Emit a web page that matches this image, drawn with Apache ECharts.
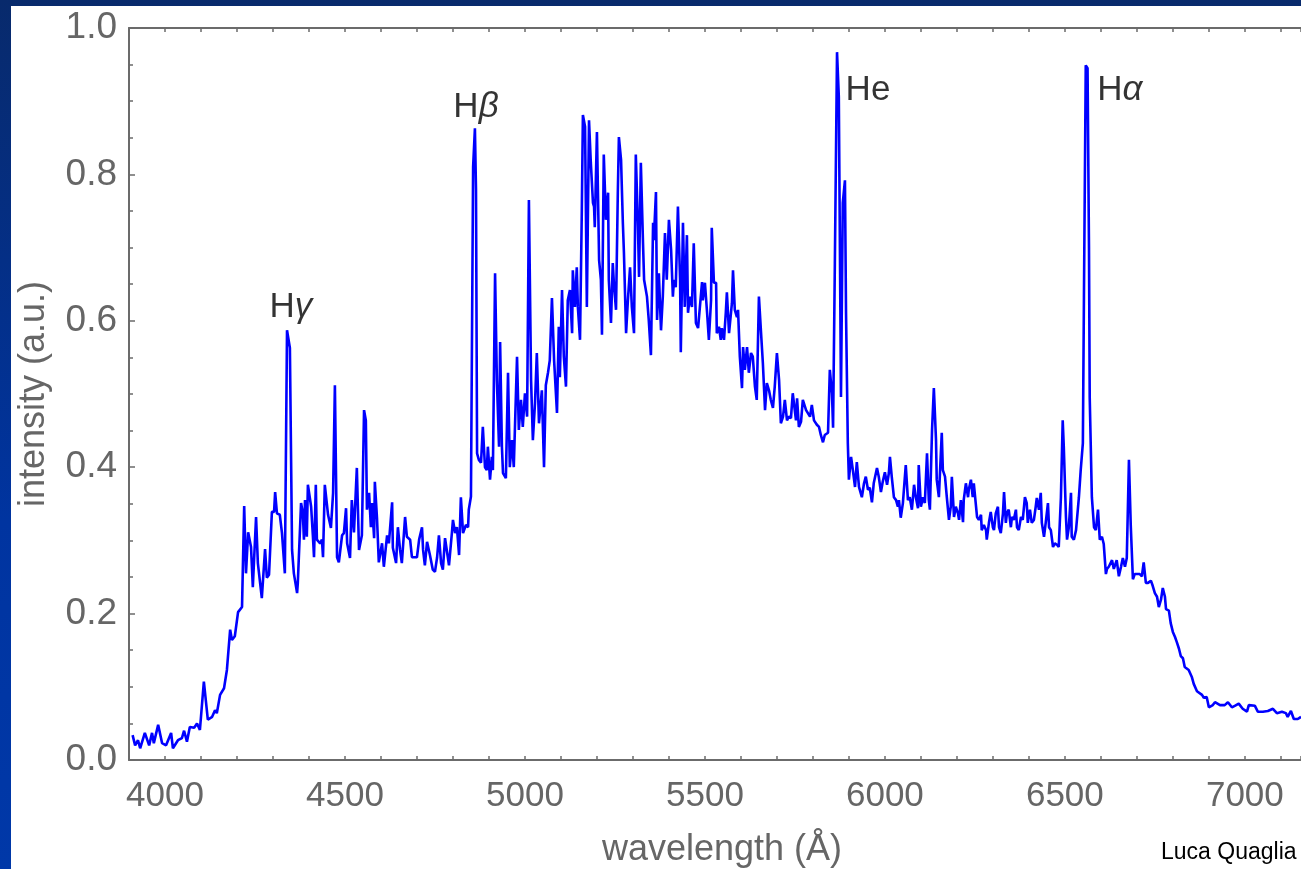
<!DOCTYPE html>
<html>
<head>
<meta charset="utf-8">
<script src="https://cdn.jsdelivr.net/npm/echarts@6/dist/echarts.min.js"></script>
<style>
  html, body { margin: 0; padding: 0; }
  body { width: 1301px; height: 869px; overflow: hidden; background: linear-gradient(180deg, #082a6c 0%, #0034a0 60%, #0038a8 100%); position: relative; }
  #paper { position: absolute; left: 11px; top: 6px; right: 0; bottom: 0; background: #fff; }
  #chartsDiv { position: absolute; left: 0; top: 0; width: 1301px; height: 869px; }
</style>
</head>
<body>
<div id="paper"></div>
<div id="chartsDiv"></div>
<script>
// wavelength (Å) and intensity (a.u.)
var wavelength = [
  3910, 3917, 3925, 3931, 3944, 3956, 3964, 3969, 3981, 3992, 4003, 4017, 4022, 4036, 4047, 4053, 4061, 4069, 4081, 4089,
  4097, 4108, 4119, 4131, 4139, 4144, 4153, 4164, 4172, 4181, 4186, 4194, 4203, 4214, 4220, 4225, 4231, 4239, 4244, 4253,
  4258, 4269, 4278, 4283, 4289, 4297, 4303, 4306, 4311, 4319, 4325, 4333, 4339, 4347, 4353, 4358, 4367, 4369, 4378, 4383,
  4386, 4389, 4394, 4397, 4406, 4411, 4414, 4419, 4422, 4431, 4436, 4439, 4444, 4453, 4461, 4467, 4472, 4478, 4483, 4492,
  4497, 4503, 4506, 4514, 4519, 4525, 4533, 4539, 4547, 4553, 4558, 4561, 4567, 4572, 4575, 4581, 4583, 4589, 4594, 4603,
  4608, 4617, 4622, 4631, 4633, 4642, 4647, 4653, 4658, 4667, 4672, 4681, 4686, 4692, 4700, 4706, 4714, 4717, 4722, 4728,
  4736, 4744, 4750, 4756, 4761, 4767, 4772, 4778, 4783, 4789, 4797, 4800, 4806, 4811, 4817, 4822, 4828, 4836, 4842, 4844,
  4850, 4856, 4861, 4864, 4867, 4872, 4878, 4883, 4889, 4894, 4897, 4903, 4908, 4911, 4917, 4922, 4928, 4931, 4936, 4939,
  4947, 4953, 4958, 4964, 4969, 4978, 4983, 4989, 4994, 5000, 5006, 5011, 5017, 5022, 5028, 5033, 5039, 5047, 5053, 5058,
  5064, 5069, 5075, 5081, 5089, 5094, 5097, 5103, 5108, 5114, 5119, 5125, 5131, 5133, 5139, 5144, 5147, 5153, 5158, 5161,
  5167, 5172, 5178, 5183, 5189, 5192, 5194, 5200, 5206, 5211, 5214, 5219, 5225, 5231, 5233, 5239, 5244, 5247, 5253, 5258,
  5261, 5267, 5272, 5275, 5281, 5286, 5292, 5297, 5303, 5308, 5314, 5317, 5322, 5328, 5331, 5339, 5344, 5350, 5356, 5358,
  5364, 5367, 5372, 5378, 5383, 5389, 5394, 5400, 5406, 5411, 5414, 5419, 5425, 5431, 5433, 5439, 5444, 5450, 5453, 5458,
  5464, 5469, 5475, 5481, 5486, 5492, 5494, 5500, 5506, 5511, 5517, 5519, 5525, 5531, 5533, 5539, 5544, 5547, 5553, 5558,
  5561, 5567, 5575, 5578, 5583, 5589, 5592, 5597, 5603, 5606, 5611, 5617, 5622, 5628, 5633, 5639, 5644, 5650, 5656, 5661,
  5667, 5672, 5678, 5683, 5689, 5694, 5700, 5706, 5711, 5717, 5722, 5728, 5733, 5739, 5744, 5753, 5756, 5761, 5767, 5772,
  5781, 5786, 5792, 5797, 5803, 5811, 5817, 5822, 5828, 5833, 5842, 5847, 5853, 5856, 5861, 5867, 5872, 5878, 5883, 5889,
  5892, 5897, 5900, 5906, 5911, 5917, 5922, 5928, 5936, 5942, 5947, 5953, 5958, 5964, 5969, 5978, 5983, 5989, 5994, 6000,
  6006, 6011, 6014, 6019, 6025, 6031, 6036, 6039, 6044, 6050, 6058, 6064, 6069, 6075, 6081, 6086, 6092, 6094, 6100, 6106,
  6111, 6117, 6122, 6125, 6131, 6136, 6142, 6144, 6150, 6158, 6161, 6167, 6172, 6178, 6183, 6186, 6192, 6197, 6203, 6206,
  6211, 6217, 6219, 6225, 6231, 6233, 6239, 6244, 6247, 6256, 6261, 6267, 6269, 6275, 6281, 6283, 6289, 6294, 6300, 6303,
  6308, 6314, 6317, 6322, 6328, 6331, 6336, 6339, 6344, 6350, 6353, 6358, 6364, 6367, 6372, 6378, 6383, 6389, 6394, 6397,
  6403, 6408, 6414, 6419, 6422, 6428, 6433, 6436, 6442, 6447, 6453, 6456, 6461, 6467, 6472, 6478, 6483, 6489, 6494, 6497,
  6503, 6506, 6511, 6517, 6519, 6525, 6531, 6533, 6539, 6544, 6550, 6553, 6558, 6563, 6567, 6569, 6575, 6581, 6586, 6592,
  6597, 6603, 6608, 6614, 6617, 6622, 6631, 6636, 6644, 6650, 6656, 6661, 6667, 6672, 6678, 6683, 6689, 6694, 6700, 6708,
  6714, 6719, 6725, 6731, 6739, 6744, 6750, 6756, 6761, 6767, 6772, 6778, 6781, 6789, 6794, 6800, 6806, 6811, 6817, 6822,
  6828, 6833, 6844, 6853, 6858, 6867, 6872, 6881, 6886, 6894, 6900, 6911, 6917, 6931, 6944, 6953, 6964, 6972, 6983, 6994,
  7006, 7011, 7028, 7036, 7050, 7064, 7078, 7089, 7103, 7114, 7119, 7128, 7136, 7147, 7156
]
var intensity = [
  0.034, 0.020, 0.027, 0.016, 0.037, 0.020, 0.037, 0.023, 0.048, 0.023, 0.020, 0.037, 0.016, 0.027, 0.030, 0.040, 0.025, 0.045, 0.044, 0.050,
  0.041, 0.107, 0.055, 0.059, 0.068, 0.064, 0.089, 0.098, 0.123, 0.178, 0.164, 0.169, 0.202, 0.209, 0.347, 0.255, 0.311, 0.291, 0.236, 0.332,
  0.269, 0.221, 0.288, 0.249, 0.253, 0.339, 0.339, 0.366, 0.337, 0.335, 0.310, 0.255, 0.587, 0.563, 0.287, 0.255, 0.228, 0.242, 0.351, 0.337,
  0.301, 0.355, 0.305, 0.376, 0.346, 0.305, 0.277, 0.376, 0.301, 0.296, 0.301, 0.277, 0.376, 0.335, 0.317, 0.365, 0.512, 0.277, 0.270, 0.307,
  0.310, 0.344, 0.296, 0.276, 0.355, 0.311, 0.399, 0.287, 0.307, 0.478, 0.464, 0.342, 0.365, 0.318, 0.351, 0.303, 0.380, 0.330, 0.270, 0.296,
  0.264, 0.307, 0.296, 0.352, 0.290, 0.269, 0.318, 0.287, 0.269, 0.332, 0.305, 0.301, 0.277, 0.277, 0.277, 0.301, 0.318, 0.287, 0.266, 0.298,
  0.280, 0.260, 0.257, 0.277, 0.307, 0.269, 0.260, 0.303, 0.303, 0.266, 0.310, 0.328, 0.310, 0.318, 0.280, 0.359, 0.310, 0.321, 0.318, 0.342,
  0.360, 0.810, 0.863, 0.779, 0.419, 0.410, 0.406, 0.455, 0.400, 0.396, 0.428, 0.383, 0.414, 0.396, 0.665, 0.519, 0.428, 0.571, 0.428, 0.392,
  0.385, 0.529, 0.400, 0.437, 0.400, 0.551, 0.451, 0.492, 0.455, 0.501, 0.469, 0.765, 0.519, 0.437, 0.488, 0.556, 0.460, 0.505, 0.400, 0.512,
  0.529, 0.546, 0.631, 0.546, 0.474, 0.592, 0.523, 0.642, 0.551, 0.510, 0.628, 0.642, 0.583, 0.669, 0.619, 0.673, 0.619, 0.574, 0.751, 0.881,
  0.865, 0.619, 0.874, 0.816, 0.761, 0.756, 0.728, 0.858, 0.683, 0.656, 0.581, 0.827, 0.738, 0.775, 0.656, 0.597, 0.679, 0.652, 0.615, 0.775,
  0.851, 0.820, 0.734, 0.693, 0.583, 0.628, 0.673, 0.619, 0.583, 0.827, 0.728, 0.660, 0.816, 0.706, 0.656, 0.633, 0.601, 0.553, 0.734, 0.710,
  0.776, 0.601, 0.665, 0.587, 0.633, 0.720, 0.656, 0.738, 0.697, 0.633, 0.656, 0.646, 0.756, 0.656, 0.557, 0.734, 0.619, 0.717, 0.611, 0.633,
  0.619, 0.706, 0.597, 0.590, 0.592, 0.653, 0.628, 0.652, 0.611, 0.574, 0.628, 0.727, 0.652, 0.652, 0.583, 0.592, 0.574, 0.590, 0.574, 0.611,
  0.639, 0.583, 0.624, 0.669, 0.615, 0.605, 0.615, 0.551, 0.508, 0.564, 0.533, 0.564, 0.529, 0.556, 0.551, 0.510, 0.492, 0.633, 0.583, 0.542,
  0.478, 0.515, 0.505, 0.492, 0.481, 0.510, 0.556, 0.519, 0.460, 0.469, 0.492, 0.464, 0.469, 0.467, 0.501, 0.464, 0.494, 0.455, 0.462, 0.492,
  0.478, 0.478, 0.469, 0.485, 0.464, 0.458, 0.455, 0.444, 0.434, 0.444, 0.447, 0.533, 0.501, 0.454, 0.679, 0.967, 0.906, 0.496, 0.761, 0.792,
  0.611, 0.433, 0.383, 0.414, 0.396, 0.373, 0.407, 0.373, 0.359, 0.378, 0.387, 0.369, 0.372, 0.352, 0.378, 0.399, 0.387, 0.366, 0.380, 0.393,
  0.376, 0.392, 0.414, 0.387, 0.359, 0.355, 0.346, 0.355, 0.331, 0.351, 0.403, 0.355, 0.359, 0.342, 0.376, 0.359, 0.344, 0.403, 0.346, 0.359,
  0.351, 0.419, 0.355, 0.342, 0.451, 0.508, 0.437, 0.383, 0.359, 0.447, 0.396, 0.387, 0.359, 0.328, 0.346, 0.387, 0.332, 0.346, 0.337, 0.328,
  0.355, 0.325, 0.355, 0.378, 0.359, 0.369, 0.383, 0.359, 0.378, 0.332, 0.328, 0.335, 0.314, 0.321, 0.314, 0.301, 0.324, 0.339, 0.318, 0.314,
  0.337, 0.346, 0.318, 0.310, 0.337, 0.366, 0.324, 0.337, 0.342, 0.318, 0.332, 0.328, 0.342, 0.318, 0.314, 0.332, 0.328, 0.359, 0.351, 0.324,
  0.342, 0.324, 0.328, 0.346, 0.358, 0.342, 0.365, 0.324, 0.305, 0.325, 0.351, 0.318, 0.314, 0.291, 0.296, 0.294, 0.291, 0.359, 0.464, 0.428,
  0.332, 0.301, 0.318, 0.365, 0.305, 0.301, 0.314, 0.314, 0.359, 0.396, 0.433, 0.633, 0.949, 0.945, 0.700, 0.496, 0.359, 0.318, 0.314, 0.342,
  0.301, 0.305, 0.295, 0.254, 0.261, 0.264, 0.273, 0.261, 0.273, 0.251, 0.264, 0.276, 0.264, 0.276, 0.410, 0.321, 0.247, 0.254, 0.254, 0.254,
  0.251, 0.270, 0.242, 0.242, 0.245, 0.238, 0.228, 0.223, 0.209, 0.219, 0.235, 0.223, 0.206, 0.204, 0.187, 0.175, 0.168, 0.161, 0.152, 0.142,
  0.139, 0.127, 0.123, 0.113, 0.104, 0.094, 0.094, 0.089, 0.085, 0.086, 0.072, 0.075, 0.079, 0.075, 0.075, 0.079, 0.072, 0.074, 0.077, 0.070,
  0.066, 0.075, 0.074, 0.066, 0.066, 0.067, 0.070, 0.064, 0.066, 0.064, 0.059, 0.067, 0.056, 0.056, 0.059
]
// line annotations: name, greek part, position (Å, a.u.)
var lineNames = ['H', 'H', 'He', 'H']
var lineGreek = ['γ', 'β', '', 'α']
var lineLabelX = [4350, 4864, 5953, 6653]
var lineLabelY = [0.619, 0.892, 0.915, 0.915]
var xTickLabels = [4000, 4500, 5000, 5500, 6000, 6500, 7000]

var realChart
var initChart = function() {
  realChart = echarts.init(document.getElementById('chartsDiv'), null, {
    renderer: 'canvas'
  })
  var seriesData = wavelength.map(function(w, i) {
    return [w, intensity[i]]
  })
  var labelData = lineNames.map(function(n, i) {
    return { value: [lineLabelX[i], lineLabelY[i]], name: n, greek: lineGreek[i] }
  })
  var axisGray = '#6b6b6b'
  var option = {
    animation: false,
    textStyle: { fontFamily: 'Liberation Sans, Arial, sans-serif' },
    grid: {
      left: 129,
      right: 0,
      top: 28,
      bottom: 109,
      containLabel: false,
      outerBoundsMode: 'none'
    },
    xAxis: [
      {
        type: 'value',
        min: 3900,
        max: 7156,
        interval: 100,
        position: 'bottom',
        axisLine: { lineStyle: { color: axisGray, width: 2 } },
        axisTick: { inside: true, length: 4, lineStyle: { color: axisGray, width: 1.5 } },
        splitLine: { show: false },
        axisLabel: {
          color: '#666',
          fontSize: 35,
          margin: 19,
          showMinLabel: true,
          showMaxLabel: true,
          formatter: function(v) {
            return xTickLabels.indexOf(v) >= 0 ? String(v) : ''
          }
        },
        name: 'wavelength (Å)',
        nameLocation: 'middle',
        nameGap: 72,
        nameTextStyle: { color: '#666', fontSize: 36, padding: [0, 0, 0, 14] }
      },
      {
        type: 'value',
        min: 3900,
        max: 7156,
        interval: 100,
        position: 'top',
        axisLine: { lineStyle: { color: axisGray, width: 2 } },
        axisTick: { inside: true, length: 4, lineStyle: { color: axisGray, width: 1.5 } },
        axisLabel: { show: false },
        splitLine: { show: false }
      }
    ],
    yAxis: {
      type: 'value',
      min: 0,
      max: 1,
      interval: 0.2,
      axisLine: { show: true, lineStyle: { color: axisGray, width: 2 } },
      axisTick: { inside: true, length: 6, lineStyle: { color: axisGray, width: 1.5 } },
      minorTick: { show: true, splitNumber: 4, length: 4, lineStyle: { color: axisGray, width: 1.5 } },
      splitLine: { show: false },
      axisLabel: {
        color: '#666',
        fontSize: 37,
        margin: 12,
        formatter: function(v) {
          return v.toFixed(1)
        }
      },
      name: 'intensity (a.u.)',
      nameLocation: 'middle',
      nameGap: 77,
      nameTextStyle: { color: '#666', fontSize: 36 }
    },
    graphic: [
      {
        type: 'text',
        left: 1161,
        top: 841,
        style: { text: 'Luca Quaglia', fill: '#000', fontSize: 23, fontFamily: 'Liberation Sans, Arial, sans-serif' }
      }
    ],
    series: [
      {
        name: 'spectrum',
        type: 'line',
        data: seriesData,
        showSymbol: false,
        clip: true,
        lineStyle: { color: '#0000ff', width: 2.6 },
        z: 3
      },
      {
        name: 'lines',
        type: 'scatter',
        data: labelData,
        symbolSize: 0,
        silent: true,
        label: {
          show: true,
          position: 'inside',
          color: '#000',
          formatter: function(p) {
            return '{n|' + p.data.name + '}' + (p.data.greek ? '{g|' + p.data.greek + '}' : '')
          },
          rich: {
            n: { color: '#000', fontSize: 35 },
            g: { color: '#000', fontSize: 35, fontStyle: 'italic' }
          }
        },
        z: 4
      }
    ]
  }
  realChart.setOption(option)
}
initChart()
</script>
</body>
</html>
